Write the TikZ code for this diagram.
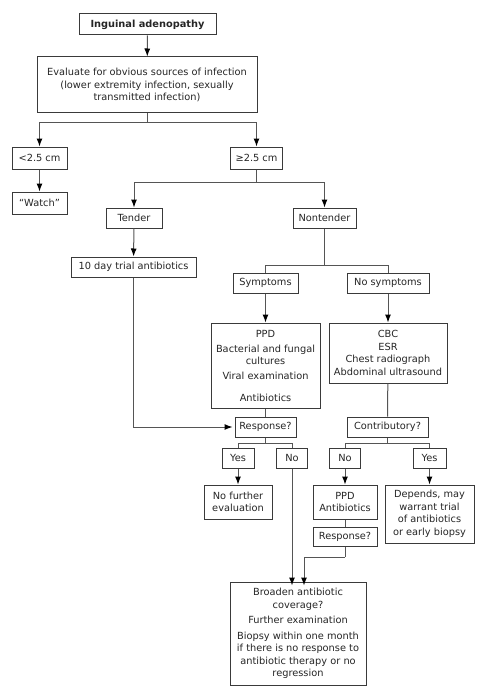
\documentclass[tikz,border=0pt]{standalone}
\usepackage{fontspec}
\setmainfont{DejaVu Sans}
\usetikzlibrary{arrows.meta}
\definecolor{lc}{HTML}{555555}
\definecolor{bc}{HTML}{3a3a3a}
\tikzset{
  box/.style={draw=bc, line width=1pt, rectangle, inner sep=0pt, align=center,
    font=\fontsize{9.8}{12.5}\selectfont, text=black!85},
  conn/.style={draw=lc, line width=1pt},
  arr/.style={conn, -{Latex[length=8pt,width=6pt,black]}},
}
\newcommand{\bx}[6]{\node[box, minimum width=#4pt, minimum height=#5pt] (#1) at (#2,#3) {#6};}
\begin{document}
\begin{tikzpicture}[x=1pt,y=-1pt]
\useasboundingbox (0,0) rectangle (486,698);
\fill[white] (0,0) rectangle (486,698);
\bx{top}{147.5}{24.5}{137}{21}{\textbf{Inguinal adenopathy}}
\bx{eval}{147}{85}{220}{56}{Evaluate for obvious sources of infection\\(lower extremity infection, sexually\\transmitted infection)}
\bx{lt}{39.5}{158}{55}{22}{<2.5 cm}
\bx{ge}{256.5}{158}{52}{22}{≥2.5 cm}
\bx{watch}{39.5}{203}{55}{22}{“Watch”}
\bx{tender}{134}{218}{56}{20}{Tender}
\bx{nontender}{324.5}{218}{63}{20}{Nontender}
\bx{tenday}{133.5}{267}{125}{20}{10 day trial antibiotics}
\bx{symptoms}{265.5}{283}{65}{20}{Symptoms}
\bx{nosym}{388}{283}{82}{20}{No symptoms}
\bx{ppd}{265.5}{365.5}{109}{85}{PPD\\[2.5pt]Bacterial and fungal\\cultures\\[2.5pt]Viral examination\\[9pt]Antibiotics}
\bx{cbc}{388}{353}{118}{60}{CBC\\ESR\\Chest radiograph\\Abdominal ultrasound}
\bx{resp}{265.5}{427}{61}{20}{Response?}
\bx{contrib}{387.5}{427}{81}{20}{Contributory?}
\bx{yesA}{238}{458}{32}{20}{Yes}
\bx{noA}{292}{458}{31}{20}{No}
\bx{noB}{345}{458}{31}{20}{No}
\bx{yesB}{429.5}{458}{33}{20}{Yes}
\bx{nofurther}{238}{502}{68}{34}{No further\\evaluation}
\bx{ppdB}{345}{502}{64}{34}{PPD\\Antibiotics}
\bx{respB}{345}{536.5}{64}{19}{Response?}
\bx{depends}{429.5}{514}{89}{58}{Depends, may\\warrant trial\\of antibiotics\\or early biopsy}
\bx{broaden}{298}{633.5}{136}{103}{Broaden antibiotic\\coverage?\\[3pt]Further examination\\[3pt]Biopsy within one month\\if there is no response to\\antibiotic therapy or no\\regression}
% connectors
\draw[arr] (top) -- (eval);
\coordinate (j1) at (147,123);
\draw[conn] (eval.south) -- (j1);
\draw[arr] (j1) -| (lt.north);
\draw[arr] (j1) -| (ge.north);
\draw[arr] (lt) -- (watch);
\coordinate (j2) at (256.5,182);
\draw[conn] (ge.south) -- (j2);
\draw[arr] (j2) -| (tender.north);
\draw[arr] (j2) -| (nontender.north);
\draw[arr] (tender) -- (tenday);
\coordinate (j3) at (324.5,265);
\draw[conn] (nontender.south) -- (j3);
\draw[conn] (j3) -| (symptoms.north);
\draw[conn] (j3) -| (nosym.north);
\draw[arr] (symptoms) -- (ppd);
\draw[arr] (nosym) -- (cbc);
\draw[conn] (ppd) -- (resp);
\draw[conn] (cbc) -- (contrib);
\draw[arr] (tenday.south) |- ([xshift=-2pt]resp.west);
\coordinate (j4) at (265.5,443);
\draw[conn] (resp.south) -- (j4);
\draw[conn] (j4) -| (yesA.north);
\draw[conn] (j4) -| (noA.north);
\coordinate (j5) at (387.5,443);
\draw[conn] (contrib.south) -- (j5);
\draw[conn] (j5) -| (noB.north);
\draw[conn] (j5) -| (yesB.north);
\draw[arr] (yesA) -- (nofurther);
\draw[arr] (noB) -- (ppdB);
\draw[arr] (yesB.south) -- (yesB.south |- depends.north);
\draw[conn] (ppdB) -- (respB);
\draw[arr] (noA.south) -- ([yshift=-4pt]noA.south |- broaden.north);
\coordinate (j6) at (345,557);
\draw[conn] (respB.south) -- (j6);
\draw[arr] (j6) -| ([xshift=12pt,yshift=-4pt]noA.south |- broaden.north);
\end{tikzpicture}
\end{document}
